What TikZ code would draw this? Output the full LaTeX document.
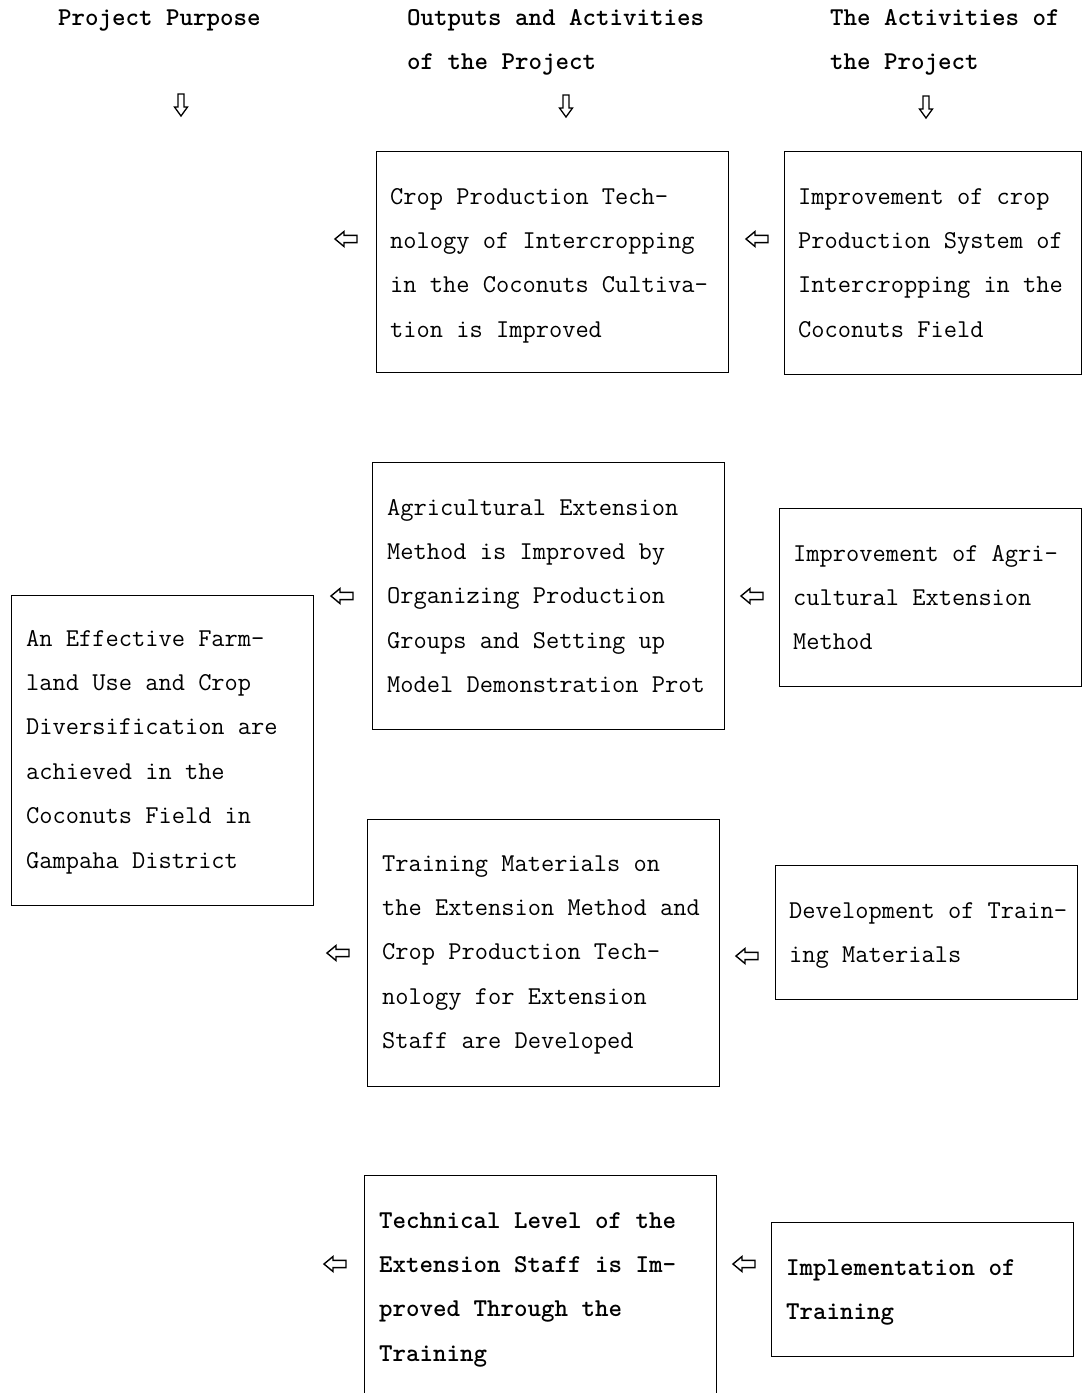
\documentclass[tikz,border=0pt]{standalone}
\begin{document}
\begin{tikzpicture}[x=1pt,y=-1pt,
  box/.style={draw=black, line width=1.4pt, anchor=north west, inner sep=0pt},
  txt/.style={font=\fontsize{25.7}{30}\selectfont\ttfamily, inner sep=0pt, anchor=base west},
  btxt/.style={font=\fontsize{25.7}{30}\selectfont\ttfamily\bfseries, inner sep=0pt, anchor=base west},
  larrow/.pic={\draw[line width=1.4pt, line join=miter] (-11,0) -- (-2,-7.5) -- (-2,-3.6) -- (11,-3.6) -- (11,3.6) -- (-2,3.6) -- (-2,7.5) -- cycle;},
  darrow/.pic={\draw[line width=1.3pt, line join=miter] (-3,-11) -- (3,-11) -- (3,2) -- (6.5,2) -- (0,11) -- (-6.5,2) -- (-3,2) -- cycle;}
]
\clip (0,0) rectangle (1083,1393);
\fill[white] (0,0) rectangle (1083,1393);

\newcommand\boxlines[5]{%
  \foreach \t [count=\i] in {#5} {
    \node[#4] (#1-\i) at ({#2},{#3+44.4*(\i-1)}) {\t};
  }%
}

% headers
\node[btxt] (h1) at (58,25) {Project Purpose};
\node[btxt] (h2a) at (407,25) {Outputs and Activities};
\node[btxt] (h2b) at (407,69) {of the Project};
\node[btxt] (h3a) at (830,25) {The Activities of};
\node[btxt] (h3b) at (830,69) {the Project};
\pic at (181,105) {darrow};
\pic at (566,106) {darrow};
\pic at (926,107) {darrow};

% boxes
\node[box, minimum width=352pt, minimum height=221pt] (b1) at (376,151) {};
\node[box, minimum width=297pt, minimum height=223pt] (c1) at (784,151) {};
\node[box, minimum width=352pt, minimum height=267pt] (b2) at (372,462) {};
\node[box, minimum width=302pt, minimum height=178pt] (c2) at (779,508) {};
\node[box, minimum width=302pt, minimum height=310pt] (a) at (11,595) {};
\node[box, minimum width=352pt, minimum height=267pt] (b3) at (367,819) {};
\node[box, minimum width=302pt, minimum height=134pt] (c3) at (775,865) {};
\node[box, minimum width=352pt, minimum height=230pt] (b4) at (364,1175) {};
\node[box, minimum width=302pt, minimum height=134pt] (c4) at (771,1222) {};

% texts
\boxlines{tb1}{390}{204}{txt}{Crop Production Tech-,nology of Intercropping,in the Coconuts Cultiva-,tion is Improved}
\boxlines{tc1}{798}{204}{txt}{Improvement of crop,Production System of,Intercropping in the,Coconuts Field}
\boxlines{tb2}{387}{515}{txt}{Agricultural Extension,Method is Improved by,Organizing Production,Groups and Setting up,Model Demonstration Prot}
\boxlines{tc2}{793}{561}{txt}{Improvement of Agri-,cultural Extension,Method}
\boxlines{ta}{26}{646}{txt}{An Effective Farm-,land Use and Crop,Diversification are,achieved in the,Coconuts Field in,Gampaha District}
\boxlines{tb3}{382}{871}{txt}{Training Materials on,the Extension Method and,Crop Production Tech-,nology for Extension,Staff are Developed}
\boxlines{tc3}{789}{918}{txt}{Development of Train-,ing Materials}
\boxlines{tb4}{379}{1228}{btxt}{Technical Level of the,Extension Staff is Im-,proved Through the,Training}
\boxlines{tc4}{786}{1275}{btxt}{Implementation of,Training}

% left arrows
\pic at (346,239) {larrow};
\pic at (757,239) {larrow};
\pic at (342,596) {larrow};
\pic at (752,596) {larrow};
\pic at (338,953) {larrow};
\pic at (747,956) {larrow};
\pic at (335,1264) {larrow};
\pic at (744,1264) {larrow};
\end{tikzpicture}
\end{document}
